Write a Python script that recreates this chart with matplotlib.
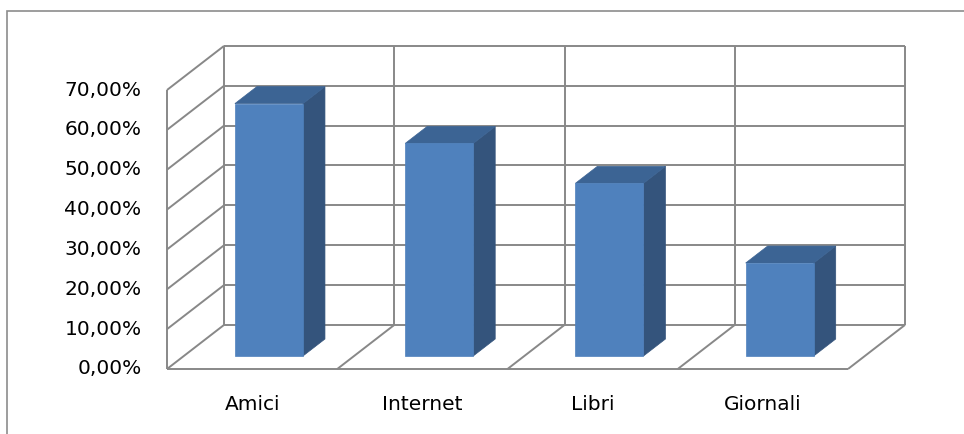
import matplotlib
matplotlib.use("Agg")
import matplotlib.pyplot as plt
from matplotlib.patches import Polygon, Rectangle

categories = ["Amici", "Internet", "Libri", "Giornali"]
values = [63.33, 53.33, 43.33, 23.33]
y_ticks = [0, 10, 20, 30, 40, 50, 60, 70]

# oblique 3D look: depth shift of the back plane in data units
DEPTH_X = 0.335   # categories
DEPTH_Y = 11.06   # percent units
BAR_Z0, BAR_Z1 = 0.295, 0.68
BAR_W = 0.4

FRONT = "#4F81BD"
TOP = "#3C6494"
SIDE = "#34547C"
GRID = "#888888"


def proj(x, y, z):
    return (x + z * DEPTH_X, y + z * DEPTH_Y)


fig = plt.figure(figsize=(9.64, 4.34), dpi=100)
W, H = 964, 434
ax = fig.add_axes([167 / W, (H - 369) / H, 681 / W, 279 / H])
ax.set_xlim(0, len(categories))
ax.set_ylim(0, y_ticks[-1])
ax.axis("off")

# chart area border
fig.patches.append(Rectangle((7 / W, -0.1), 1.2, (H - 11) / H + 0.1,
                             transform=fig.transFigure, fill=False,
                             edgecolor="#8c8c8c", linewidth=1.2))

n = len(categories)
top = y_ticks[-1]
lw = 1.4


def line(p, q):
    ax.plot([p[0], q[0]], [p[1], q[1]], color=GRID, linewidth=lw,
            clip_on=False, solid_capstyle="butt", zorder=1)


# gridlines on back wall and left wall
for t in y_ticks:
    line(proj(0, t, 1), proj(n, t, 1))
    line(proj(0, t, 0), proj(0, t, 1))
# back wall verticals
for i in range(n + 1):
    line(proj(i, 0, 1), proj(i, top, 1))
# left wall front edge
line(proj(0, 0, 0), proj(0, top, 0))
# floor
line(proj(0, 0, 0), proj(n, 0, 0))
for i in range(1, n + 1):
    line(proj(i, 0, 0), proj(i, 0, 1))

# bars
for i, v in enumerate(values):
    x0 = i + 0.5 - BAR_W / 2
    x1 = i + 0.5 + BAR_W / 2
    front = [proj(x0, 0, BAR_Z0), proj(x1, 0, BAR_Z0),
             proj(x1, v, BAR_Z0), proj(x0, v, BAR_Z0)]
    side = [proj(x1, 0, BAR_Z0), proj(x1, 0, BAR_Z1),
            proj(x1, v, BAR_Z1), proj(x1, v, BAR_Z0)]
    topf = [proj(x0, v, BAR_Z0), proj(x1, v, BAR_Z0),
            proj(x1, v, BAR_Z1), proj(x0, v, BAR_Z1)]
    for pts, c in [(side, SIDE), (topf, TOP), (front, FRONT)]:
        ax.add_patch(Polygon(pts, closed=True, facecolor=c, edgecolor=c,
                             linewidth=0.5, clip_on=False, zorder=3))

# tick labels
for t in y_ticks:
    ax.text(-0.15, t, f"{t:.2f}%".replace(".", ","), ha="right", va="center",
            fontsize=14.5, family="DejaVu Sans", color="#000000")
for i, c in enumerate(categories):
    ax.text(i + 0.5, -8.8, c, ha="center", va="center",
            fontsize=14.5, family="DejaVu Sans", color="#000000")

fig.savefig("out.png", dpi=100)
